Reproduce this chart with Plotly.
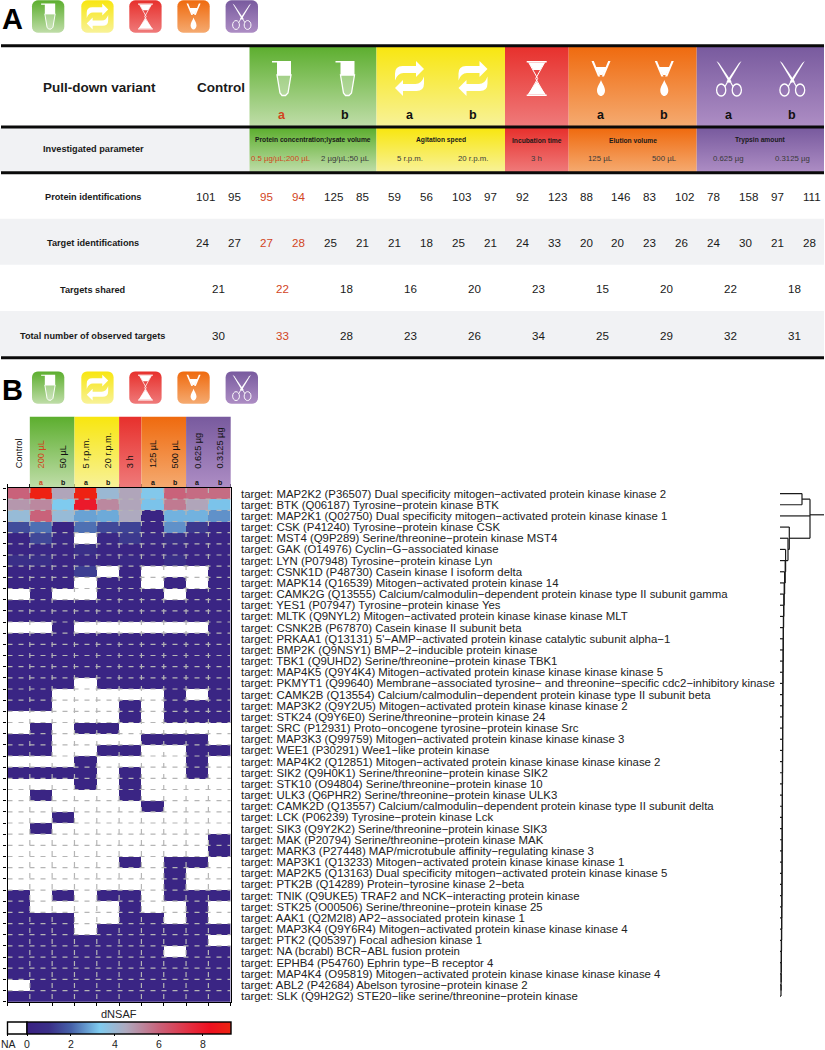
import re
import plotly.graph_objects as go

# ---------- data ----------
conditions = ["Control", "200 µL", "50 µL", "5 r.p.m.", "20 r.p.m.", "3 h", "125 µL", "500 µL", "0.625 µg", "0.3125 µg"]
condition_tags = ["", "a", "b", "a", "b", "", "a", "b", "a", "b"]
targets = [
 "MAP2K2 (P36507) Dual specificity mitogen−activated protein kinase kinase 2",
 "BTK (Q06187) Tyrosine−protein kinase BTK",
 "MAP2K1 (Q02750) Dual specificity mitogen−activated protein kinase kinase 1",
 "CSK (P41240) Tyrosine−protein kinase CSK",
 "MST4 (Q9P289) Serine/threonine−protein kinase MST4",
 "GAK (O14976) Cyclin−G−associated kinase",
 "LYN (P07948) Tyrosine−protein kinase Lyn",
 "CSNK1D (P48730) Casein kinase I isoform delta",
 "MAPK14 (Q16539) Mitogen−activated protein kinase 14",
 "CAMK2G (Q13555) Calcium/calmodulin−dependent protein kinase type II subunit gamma",
 "YES1 (P07947) Tyrosine−protein kinase Yes",
 "MLTK (Q9NYL2) Mitogen−activated protein kinase kinase kinase MLT",
 "CSNK2B (P67870) Casein kinase II subunit beta",
 "PRKAA1 (Q13131) 5'−AMP−activated protein kinase catalytic subunit alpha−1",
 "BMP2K (Q9NSY1) BMP−2−inducible protein kinase",
 "TBK1 (Q9UHD2) Serine/threonine−protein kinase TBK1",
 "MAP4K5 (Q9Y4K4) Mitogen−activated protein kinase kinase kinase kinase 5",
 "PKMYT1 (Q99640) Membrane−associated tyrosine− and threonine−specific cdc2−inhibitory kinase",
 "CAMK2B (Q13554) Calcium/calmodulin−dependent protein kinase type II subunit beta",
 "MAP3K2 (Q9Y2U5) Mitogen−activated protein kinase kinase kinase 2",
 "STK24 (Q9Y6E0) Serine/threonine−protein kinase 24",
 "SRC (P12931) Proto−oncogene tyrosine−protein kinase Src",
 "MAP3K3 (Q99759) Mitogen−activated protein kinase kinase kinase 3",
 "WEE1 (P30291) Wee1−like protein kinase",
 "MAP4K2 (Q12851) Mitogen−activated protein kinase kinase kinase kinase 2",
 "SIK2 (Q9H0K1) Serine/threonine−protein kinase SIK2",
 "STK10 (O94804) Serine/threonine−protein kinase 10",
 "ULK3 (Q6PHR2) Serine/threonine−protein kinase ULK3",
 "CAMK2D (Q13557) Calcium/calmodulin−dependent protein kinase type II subunit delta",
 "LCK (P06239) Tyrosine−protein kinase Lck",
 "SIK3 (Q9Y2K2) Serine/threonine−protein kinase SIK3",
 "MAK (P20794) Serine/threonine−protein kinase MAK",
 "MARK3 (P27448) MAP/microtubule affinity−regulating kinase 3",
 "MAP3K1 (Q13233) Mitogen−activated protein kinase kinase kinase 1",
 "MAP2K5 (Q13163) Dual specificity mitogen−activated protein kinase kinase 5",
 "PTK2B (Q14289) Protein−tyrosine kinase 2−beta",
 "TNIK (Q9UKE5) TRAF2 and NCK−interacting protein kinase",
 "STK25 (O00506) Serine/threonine−protein kinase 25",
 "AAK1 (Q2M2I8) AP2−associated protein kinase 1",
 "MAP3K4 (Q9Y6R4) Mitogen−activated protein kinase kinase kinase 4",
 "PTK2 (Q05397) Focal adhesion kinase 1",
 "NA (bcrabl) BCR−ABL fusion protein",
 "EPHB4 (P54760) Ephrin type−B receptor 4",
 "MAP4K4 (O95819) Mitogen−activated protein kinase kinase kinase kinase 4",
 "ABL2 (P42684) Abelson tyrosine−protein kinase 2",
 "SLK (Q9H2G2) STE20−like serine/threonine−protein kinase",
]
_ = None
d = 0.25
dnsaf = [
 [6.0, 9.2, 4.6, 9.2, 4.0, 4.6, 3.4, 6.0, 5.8, 5.8],
 [4.9, 5.2, 3.3, 8.0, 5.2, 4.6, 3.2, 5.5, 4.6, 3.2],
 [3.9, 6.0, 3.9, 2.8, 2.9, 4.5, d, 3.0, 3.0, 2.6],
 [1.6, 2.2, d, 2.2, 1.5, 1.4, d, 2.6, 1.2, 0.5],
 [d, 1.5, 0.5, _, 0.5, 1.2, 0.5, 1.0, 0.6, d],
 [d, 0.5, d, 1.0, d, d, d, 0.5, d, d],
 [1.0, 1.0, d, 0.6, d, 0.6, d, 1.0, d, d],
 [d, d, d, 1.3, _, d, _, _, _, d],
 [d, d, d, _, d, d, _, d, _, d],
 [_, d, _, _, d, d, d, _, d, d],
 [d, d, d, d, d, d, d, d, d, d],
 [d, d, d, d, d, d, d, d, d, d],
 [_, _, d, _, _, _, _, _, _, d],
 [d, d, d, d, d, d, d, d, d, d],
 [d, d, d, d, d, d, d, d, d, d],
 [d, d, d, d, d, d, d, d, d, d],
 [d, d, d, d, d, d, d, d, d, d],
 [d, d, d, _, d, d, d, d, d, d],
 [d, d, _, _, _, _, _, d, _, d],
 [d, d, _, _, _, d, _, d, d, d],
 [_, _, _, _, _, d, _, d, d, d],
 [_, d, _, d, d, _, _, _, _, _],
 [d, d, _, _, _, _, d, d, d, _],
 [d, d, _, _, d, d, _, _, d, d],
 [_, _, _, d, _, _, _, _, d, _],
 [d, d, d, d, _, d, _, _, d, _],
 [_, _, _, d, _, d, _, _, _, _],
 [_, d, _, _, _, d, _, _, _, _],
 [_, _, _, _, _, _, d, _, _, _],
 [_, _, d, _, _, _, _, _, _, _],
 [_, d, _, _, _, _, _, _, _, _],
 [_, _, _, _, _, _, _, _, _, d],
 [_, _, _, _, _, _, _, _, _, d],
 [_, _, _, _, _, d, _, d, d, _],
 [_, _, _, _, _, _, _, d, _, _],
 [_, _, _, _, _, _, _, d, _, _],
 [d, _, d, _, d, d, _, d, d, d],
 [d, _, _, _, _, d, _, _, d, _],
 [d, d, d, _, _, d, d, _, d, _],
 [d, d, d, _, d, d, d, d, d, d],
 [d, d, d, d, d, d, d, d, d, _],
 [d, d, d, d, d, d, d, _, d, d],
 [d, d, d, d, d, d, d, d, d, d],
 [d, d, d, d, d, d, d, d, d, d],
 [_, d, d, d, d, d, d, d, d, d],
 [d, d, d, d, d, d, d, d, d, d],
]
colorbar_ticks = [0, 2, 4, 6, 8]
dnsaf_max = 9.28
color_stops = [(0, "#3a2183"), (1.0, "#3a2f88"), (2.0, "#4560a8"), (3.3, "#7fcbef"),
               (4.5, "#aeaabf"), (6.0, "#c9627a"), (7.5, "#e62a3c"), (8.3, "#ee1020"), (9.28, "#ee2412")]

# dendrogram merge heights (rows 0-based)
merge_top_pair = 22
merge_top = 30
root_height = 44
merge_row3 = 9.3
merge_chain = [8.0,5.6,5.2,4.6,4.2,3.8,3.6,3.4,3.3,3.2,3.1,3.0,2.9,2.8,2.8,2.7,2.7,2.6,2.6,2.5,2.5,
               2.4,2.4,2.3,2.3,2.2,2.2,2.1,2.1,2.0,2.0,1.9,1.8,1.7,1.6,1.5,1.4,1.3,1.2,1.1,1.0]

protein_ids = [101, 95, 95, 94, 125, 85, 59, 56, 103, 97, 92, 123, 88, 146, 83, 102, 78, 158, 97, 111]
target_ids = [24, 27, 27, 28, 25, 21, 21, 18, 25, 21, 24, 33, 20, 20, 23, 26, 24, 30, 21, 28]
targets_shared = [21, 22, 18, 16, 20, 23, 15, 20, 22, 18]
total_targets = [30, 33, 28, 23, 26, 34, 25, 29, 32, 31]

ACC = "#d2451e"
FONT = "Liberation Sans"
GRAD = {"green": ("#5cae2e", "#bfdda8"), "yellow": ("#f8e60f", "#f8f298"), "red": ("#e7302c", "#ef7a7a"),
        "orange": ("#ef6a0e", "#f5aa70"), "purple": ("#785a9e", "#ad8dc4")}

W, H_ = 825, 1050
fig = go.Figure()
shapes, annots = [], []

def text(x, y, s, size=11, color="#1a1a1a", bold=False, xa="center", ya="middle", angle=0):
    annots.append(dict(x=x, y=y, xref="x3", yref="y3", text=f"<b>{s}</b>" if bold else s, showarrow=False,
                       xanchor=xa, yanchor=ya, textangle=angle, borderpad=0,
                       font=dict(family=FONT, size=size, color=color)))

def grad_poly(xs, ys, c, y0, y1):
    fig.add_trace(go.Scatter(x=xs, y=ys, xaxis="x3", yaxis="y3", mode="none", fill="toself", hoverinfo="skip",
                             showlegend=False,
                             fillgradient=dict(type="vertical", start=y0, stop=y1,
                                               colorscale=[[0, GRAD[c][0]], [1, GRAD[c][1]]])))

def grad_rect(x0, x1, y0, y1, c):
    grad_poly([x0, x1, x1, x0, x0], [y0, y0, y1, y1, y0], c, y0, y1)

def rounded(x0, x1, y0, y1, r, c):
    k = [(0, 1), (.29, .96), (.59, .81), (.81, .59), (.96, .29), (1, 0)]
    xs, ys = [], []
    for a, b in k:  # top-right
        xs.append(x1 - r + a * r); ys.append(y0 + r - b * r)
    for a, b in k:  # bottom-right
        xs.append(x1 - r + b * r); ys.append(y1 - r + a * r)
    for a, b in k:  # bottom-left
        xs.append(x0 + r - a * r); ys.append(y1 - r + b * r)
    for a, b in k:  # top-left
        xs.append(x0 + r - b * r); ys.append(y0 + r - a * r)
    xs.append(xs[0]); ys.append(ys[0])
    grad_poly(xs, ys, c, y0, y1)

def tf(path, cx, cy, s):
    nums = iter(range(10 ** 6))
    def rep(m):
        i = next(nums)
        v = float(m.group(0))
        return f"{cx + v * s:.2f}" if i % 2 == 0 else f"{cy + v * s:.2f}"
    return re.sub(r"-?\d+\.?\d*", rep, path)

def glyph(parts, cx, cy, s):
    for path, fill, lw in parts:
        shapes.append(dict(type="path", xref="x3", yref="y3", path=tf(path, cx, cy, s),
                           fillcolor=fill, line=dict(color="white", width=lw * s if lw else 0)))

W_ = "white"
NONE = "rgba(0,0,0,0)"
def ell(cx, cy, rx, ry):
    k = 0.55
    return (f"M{cx-rx},{cy} C{cx-rx},{cy-ry*k} {cx-rx*k},{cy-ry} {cx},{cy-ry} "
            f"C{cx+rx*k},{cy-ry} {cx+rx},{cy-ry*k} {cx+rx},{cy} "
            f"C{cx+rx},{cy+ry*k} {cx+rx*k},{cy+ry} {cx},{cy+ry} "
            f"C{cx-rx*k},{cy+ry} {cx-rx},{cy+ry*k} {cx-rx},{cy} Z")

TUBE = [("M-9.5,-17.5 L9.5,-17.5 L9.5,-3.5 L-4.5,-3.5 L-4.5,-16 L-9.5,-16 Z", W_, 0),
        ("M-4.5,-3.5 L-1.5,14.5 L0.5,17 L4,17 L6.5,14.5 L9.5,-3.5 Z", "rgba(255,255,255,0.28)", 1.3)]
ARROWS = [("M6.5,-17.5 L14.5,-9.5 L6.5,-1.5 L6.5,-5.5 L-6,-5.5 Q-12,-5.5 -14.5,2 L-14.5,-5 Q-14.5,-12.5 -7,-12.5 L6.5,-12.5 Z", W_, 0),
          ("M-6.5,17.5 L-14.5,9.5 L-6.5,1.5 L-6.5,5.5 L6,5.5 Q12,5.5 14.5,-2 L14.5,5 Q14.5,12.5 7,12.5 L-6.5,12.5 Z", W_, 0)]
GLASS = [("M-10,-17.5 L10,-17.5 L10,-16 L-10,-16 Z", W_, 0),
         ("M-10,16 L10,16 L10,17.5 L-10,17.5 Z", W_, 0),
         ("M-8,-16 L8,-16 L3.5,-8.5 L-3.5,-8.5 Z", W_, 0),
         ("M0,3 L9,16 L-9,16 Z", W_, 0),
         ("M-8,-16 L1,0 L-8,16", NONE, 1),
         ("M8,-16 L-1,0 L8,16", NONE, 1)]
PIPET = [("M-9.5,-17.5 L-7.2,-17.5 L-0.8,-2 L-3,-2 Z", W_, 0),
         ("M9.5,-17.5 L7.2,-17.5 L0.8,-2 L3,-2 Z", W_, 0),
         ("M-5.8,-11.5 L5.8,-11.5 L1.5,-3.5 L-1.5,-3.5 Z", W_, 0),
         ("M0,1.5 C1,5 4,8 4,12 C4,15 2,17.5 0,17.5 C-2,17.5 -4,15 -4,12 C-4,8 -1,5 0,1.5 Z", W_, 0)]
SCISS = [("M-12.5,-17.5 L-10,-15.5 L2.5,3 L0.6,4.5 Z", W_, 0),
         ("M12.5,-17.5 L10,-15.5 L-2.5,3 L-0.6,4.5 Z", W_, 0),
         ("M1.5,3.5 L4,8", NONE, 1.2), ("M-1.5,3.5 L-4,8", NONE, 1.2),
         (ell(7.8, 11.5, 4.6, 6), NONE, 1.3), (ell(-7.8, 11.5, 4.6, 6), NONE, 1.3)]
GL = {"green": TUBE, "yellow": ARROWS, "red": GLASS, "orange": PIPET, "purple": SCISS}

# ---------- icon strips ----------
icon_x = [(32, 64.3, "green"), (81.3, 113.6, "yellow"), (129.3, 161.6, "red"), (177.4, 209.7, "orange"), (225.6, 258, "purple")]
for top in (0.3, 371.4):
    for x0, x1, c in icon_x:
        rounded(x0, x1, top, top + 32.4, 6, c)
        glyph(GL[c], (x0 + x1) / 2, top + 16.2, 0.74)
text(0.5, 18.5, "A", size=29, color="black", bold=True, xa="left")
text(0.5, 389.5, "B", size=29, color="black", bold=True, xa="left")

# ---------- table panel ----------
bands = [(249.5, 376.5, "green"), (376.5, 505, "yellow"), (505, 568.7, "red"), (568.7, 696.7, "orange"), (696.7, 824, "purple")]
for x0, x1, c in bands:
    grad_rect(x0, x1, 46, 126, c)
    grad_rect(x0, x1, 128, 172, c)
for x0, x1, y0, y1 in [(0, 249.5, 128, 172), (0, 824, 218.7, 264.7), (0, 824, 311, 356)]:
    shapes.append(dict(type="rect", xref="x3", yref="y3", x0=x0, x1=x1, y0=y0, y1=y1, fillcolor="#f1f2f4",
                       line_width=0, layer="below"))
for y in (45.8, 127, 172.8, 357.7):
    shapes.append(dict(type="line", xref="x3", yref="y3", x0=1, x1=824, y0=y, y1=y, line=dict(color="#0a0a0a", width=3)))

text(99, 87, "Pull-down variant", size=13.5, bold=True)
text(221, 87, "Control", size=13.5, bold=True)
head = [(281.5, "a", "green", ACC), (345, "b", "green", "#111"), (409.5, "a", "yellow", "#111"), (473, "b", "yellow", "#111"),
        (536.7, "", "red", "#111"), (601, "a", "orange", "#111"), (664.3, "b", "orange", "#111"),
        (729, "a", "purple", "#111"), (792.3, "b", "purple", "#111")]
for x, lab, c, col in head:
    glyph(GL[c], x, 78.5, 1)
    if lab:
        text(x, 115, lab, size=12.5, bold=True, color=col)

text(93, 148.5, "Investigated parameter", size=9.2, bold=True)
for x, y, s in [(313, 139.5, "Protein concentration;lysate volume"), (440.7, 139.5, "Agitation speed"),
                (536.7, 140, "Incubation time"), (632.7, 140, "Elution volume"), (760.7, 139.5, "Trypsin amount")]:
    text(x, y, s, size=6.7, bold=True)
text(281, 158, "0.5 µg/µL;200 µL", size=7.8, color=ACC)
for x, s in [(345, "2 µg/µL;50 µL"), (409.5, "5 r.p.m."), (473, "20 r.p.m."), (536.7, "3 h"), (600, "125 µL"),
             (664.3, "500 µL"), (728.3, "0.625 µg"), (792.3, "0.3125 µg")]:
    text(x, 158, s, size=7.8, color="#3a3a3a")

for y, s in [(197, "Protein identifications"), (243, "Target identifications"), (289.5, "Targets shared"),
             (336, "Total number of observed targets")]:
    text(92.5, y, s, size=9.2, bold=True)
for i, (a, b) in enumerate(zip(protein_ids, target_ids)):
    col = ACC if i in (2, 3) else "#1a1a1a"
    text(195 + 31.96 * i, 196, a, size=11.6, color=col, xa="left")
    text(195 + 31.96 * i, 242.5, b, size=11.6, color=col, xa="left")
for i, (a, b) in enumerate(zip(targets_shared, total_targets)):
    col = ACC if i == 1 else "#1a1a1a"
    text(211 + 64 * i, 288.7, a, size=11.6, color=col, xa="left")
    text(211 + 64 * i, 335, b, size=11.6, color=col, xa="left")

# ---------- heat map ----------
X0, X1, Y0, Y1 = 7.5, 230.7, 488.0, 1001.7
n_rows, n_cols = len(targets), len(conditions)
col_ids = list(range(n_cols))
row_ids = list(range(n_rows))
col_w = (X1 - X0) / n_cols
for x0, x1, c in [(X0 + col_w, X0 + 3 * col_w, "green"), (X0 + 3 * col_w, X0 + 5 * col_w, "yellow"),
                  (X0 + 5 * col_w, X0 + 6 * col_w, "red"), (X0 + 6 * col_w, X0 + 8 * col_w, "orange"),
                  (X0 + 8 * col_w, X1, "purple")]:
    grad_rect(x0, x1, 416.7, 487, c)
for i, (s, t) in enumerate(zip(conditions, condition_tags)):
    xc = X0 + (i + .5) * col_w
    col = ACC if i == 1 else "#111"
    text(xc, 469.5, s, size=9.2, color=col, ya="bottom", angle=-90)
    if t:
        text(xc, 482, t, size=7, color=col, bold=True)

fig.add_trace(go.Heatmap(z=dnsaf, x=col_ids, y=row_ids, zmin=0, zmax=dnsaf_max, hoverongaps=False,
    colorscale=[[v / dnsaf_max, c] for v, c in color_stops],
    colorbar=dict(orientation="h", lenmode="pixels", len=203.5, thicknessmode="pixels", thickness=12,
                  x=27 / W, xanchor="left", xpad=0, y=1 - 1022 / H_, yanchor="top", ypad=0,
                  outlinecolor="black", outlinewidth=1.4, tickmode="array", tickvals=colorbar_ticks,
                  ticks="outside", ticklen=1.5, tickwidth=1, tickcolor="black",
                  tickfont=dict(family=FONT, size=10.5, color="#222"))))

gx, gy = [], []
for k in range(1, n_cols):
    gx += [k - .5, k - .5, None]; gy += [-.5, n_rows - .5, None]
for k in range(1, n_rows):
    gx += [-.5, n_cols - .5, None]; gy += [k - .5, k - .5, None]
fig.add_trace(go.Scatter(x=gx, y=gy, mode="lines", hoverinfo="skip", showlegend=False,
                         line=dict(color="#b5b5b5", width=1.2, dash="5px,6px")))
fig.add_trace(go.Scatter(x=[0] * n_rows, y=row_ids, yaxis="y2", mode="none", hoverinfo="skip", showlegend=False))

# NA key of colour bar
shapes.append(dict(type="rect", xref="x3", yref="y3", x0=7.5, x1=27, y0=1022, y1=1034, fillcolor="white",
                   line=dict(color="black", width=1.4)))
shapes.append(dict(type="line", xref="x3", yref="y3", x0=7.5, x1=7.5, y0=1034, y1=1036, line=dict(color="black", width=1)))
text(119, 1014, "dNSAF", size=11, color="#222")
text(8, 1043.5, "NA", size=10.5, color="#222")

# ---------- dendrogram ----------
dx, dy = [], []
def seg(xa, ya, xb, yb):
    dx.extend([xa, xb, None]); dy.extend([ya, yb, None])
node_h, node_y = 0, n_rows - 1
for r, h in reversed(list(zip(range(4, 45), merge_chain))):
    seg(0, r, h, r); seg(node_h, node_y, h, node_y); seg(h, r, h, node_y)
    node_h, node_y = h, (r + node_y) / 2
seg(0, 3, merge_row3, 3); seg(node_h, node_y, merge_row3, node_y); seg(merge_row3, 3, merge_row3, node_y)
chain_h, chain_y = merge_row3, (3 + node_y) / 2
seg(0, 0, merge_top_pair, 0); seg(0, 1, merge_top_pair, 1); seg(merge_top_pair, 0, merge_top_pair, 1)
seg(merge_top_pair, .5, merge_top, .5); seg(0, 2, merge_top, 2); seg(chain_h, chain_y, merge_top, chain_y)
seg(merge_top, .5, merge_top, chain_y)
seg(merge_top, 1.9, root_height, 1.9)
fig.add_trace(go.Scatter(x=dx, y=dy, xaxis="x4", mode="lines", hoverinfo="skip", showlegend=False,
                         line=dict(color="#1a1a1a", width=1.2)))

fy = lambda p: 1 - p / H_
fig.update_layout(
    width=W, height=H_, margin=dict(l=0, r=0, t=0, b=0, autoexpand=False), paper_bgcolor="white",
    plot_bgcolor="rgba(0,0,0,0)",
    showlegend=False, font=dict(family=FONT), shapes=shapes, annotations=annots,
    xaxis=dict(domain=[X0 / W, X1 / W], range=[-.5, n_cols - .5], tickmode="array",
               tickvals=[k - .5 for k in range(n_cols + 1)], showticklabels=False, ticks="outside", ticklen=3,
               tickwidth=1, tickcolor="black", showgrid=False, zeroline=False, showline=True, linecolor="black",
               linewidth=1.4, mirror="ticks"),
    yaxis=dict(domain=[fy(Y1), fy(Y0)], range=[n_rows - .5, -.5], tickmode="array",
               tickvals=[k - .5 for k in range(n_rows + 1)], showticklabels=False, ticks="outside", ticklen=3,
               tickwidth=1, tickcolor="black", showgrid=False, zeroline=False, showline=True, linecolor="black",
               linewidth=1.4, mirror=True),
    yaxis2=dict(overlaying="y", side="right", anchor="x", range=[n_rows - .5, -.5], tickmode="array",
                tickvals=row_ids, ticktext=["target: " + t for t in targets], ticks="outside", ticklen=7,
                tickcolor="rgba(0,0,0,0)", showgrid=False, zeroline=False, showline=False,
                tickfont=dict(family=FONT, size=11.4, color="#222")),
    xaxis3=dict(domain=[0, 1], range=[0, W], visible=False, anchor="y3"),
    yaxis3=dict(domain=[0, 1], range=[H_, 0], visible=False, anchor="x3"),
    xaxis4=dict(domain=[780 / W, 1], range=[0, 45], visible=False, anchor="y"),
)
page_css = ("var h=document.documentElement,b=document.body;"
            "h.style.margin='0';h.style.overflow='hidden';h.style.height='1050px';"
            "b.style.margin='0';b.style.overflow='hidden';b.style.height='1050px';")
fig.write_html("out.html", post_script=page_css, config=dict(displayModeBar=False))
